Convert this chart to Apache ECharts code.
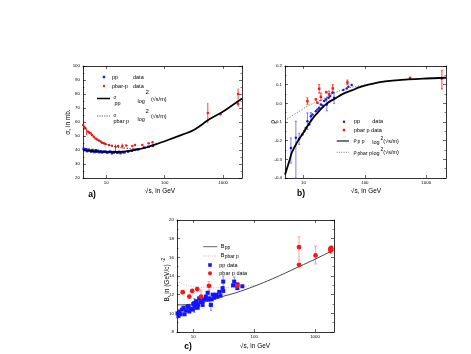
<!DOCTYPE html>
<html><head><meta charset="utf-8">
<script src="https://cdn.jsdelivr.net/npm/echarts@6/dist/echarts.min.js"></script>
<style>html,body{margin:0;padding:0;background:#fff}#c{width:471px;height:354px}</style>
</head><body><div id="c"></div>
<script>
// ---------------- DATA ----------------
// x tick labels (log axes)
const xTickLabels = [10, 100, 1000];
// y tick labels
const yTicksA = [20, 30, 40, 50, 60, 70, 80, 90, 100];
const yTicksB = [-0.4, -0.3, -0.2, -0.1, 0.0, 0.1, 0.2];
const yTicksC = [8, 10, 12, 14, 16, 18, 20];

// Panel a: total cross sections (sqrt s [GeV], sigma [mb])
const aCurvePP = [[4,40.2],[5,39.6],[6,39.2],[8,38.9],[10,38.7],[15,38.6],[20,38.9],[30,39.9],[50,42.0],[84,45.2],[100,46.3],[200,51.0],[314,54.3],[580,61.9],[1000,67.5],[1500,72.5],[2100,76.8]];
const aCurvePbar = [[4,57.5],[5,52.5],[6,49.5],[8,45.8],[10,44.0],[15,42.2],[20,41.4],[30,40.8],[40,41.2],[50,42.1],[60,43.1]];
const aDataPP = [[4.1,40.8],[4.3,39.9],[4.5,40.5],[4.7,39.2],[5.0,40.2],[5.2,39.6],[5.5,38.9],[5.8,40.0],[6.0,39.1],[6.3,38.6],[6.6,39.8],[6.9,38.9],[7.2,39.4],[7.6,38.5],[8.0,39.0],[8.5,38.3],[9.0,38.8],[9.7,38.9],[10.3,38.2],[11.0,38.5],[11.7,38.9],[12.5,37.7],[13.4,38.3],[14.0,38.6],[15.5,38.0],[16.5,38.7],[17.5,37.8],[19.0,38.5],[20.5,38.3],[23.5,38.9],[27.4,39.5],[30.7,40.2],[35,40.5],[44.7,41.7],[52.8,42.3],[62.7,43.0]];
const aDataPbar = [[4.03,57.9],[4.2,56.5],[4.4,55.5],[4.9,53.1],[5.1,52.5],[5.4,51.9],[5.75,50.7],[6.1,49.5],[6.55,48.3],[7.0,47.5],[7.5,46.7],[8.0,46.0],[8.5,45.2],[9.1,44.8],[9.7,44.3],[11.1,43.6],[12.5,43.0],[14.4,42.4],[16,42.8],[18.8,42.9],[22,43.2],[27.9,42.9],[31,43.5],[41.4,43.6],[53,44.8],[62,45.5],[546,66.5],[900,65.5],[1800,80.0],[1800,72.8]];
const aErrPbar = [[4.6,50.5,55.0],[14.4,38.0,44.0],[18.8,41.0,44.5],[546,59.0,73.6],[1800,76.0,84.0],[1800,71.0,75.0]];

// Panel b: rho (sqrt s [GeV], rho)
const bCurvePP = [[5,-0.382],[6,-0.30],[6.5,-0.261],[8,-0.205],[10,-0.156],[12,-0.115],[15,-0.07],[17.5,-0.046],[20,-0.025],[25,0.003],[32.8,0.026],[45,0.052],[61,0.069],[80,0.085],[114,0.100],[213,0.118],[510,0.128],[1000,0.133],[2100,0.137]];
const bCurvePbar = [[5,-0.092],[7,-0.06],[9.4,-0.034],[12,-0.012],[17.5,0.012],[25,0.038],[32.8,0.057],[45,0.074],[54,0.083],[70,0.090],[100,0.098]];
const bDataPP = [[6.24,-0.239],[7.52,-0.185],[8.5,-0.191],[9.6,-0.167],[10.3,-0.149],[10.9,-0.132],[11.6,-0.096],[12.4,-0.114],[13.2,-0.069],[14.0,-0.060],[15.9,-0.042],[16.9,-0.033],[18.0,-0.024],[19.2,-0.006],[20.4,-0.011],[21.7,0.012],[23.1,0.021],[24.0,-0.006],[25.5,0.030],[27.2,0.039],[29.6,0.057],[31.5,0.030],[44.6,0.071],[50.6,0.080],[54,0.089],[61,0.098]];
const bErrPP = [[6.24,-0.32,-0.185],[7.52,-0.40,-0.096],[8.5,-0.22,-0.16],[11.6,-0.14,-0.051],[24.0,-0.04,0.03],[31.5,0.0,0.06],[13.2,-0.09,-0.05]];
const bDataPbar = [[11.6,0.012],[15.9,0.021],[16.9,0.003],[18.0,0.078],[19.2,0.035],[23.5,0.060],[26.2,0.048],[30.0,0.080],[52,0.112],[546,0.136],[1800,0.133]];
const bErrPbar = [[11.6,-0.005,0.03],[18.0,0.055,0.10],[19.2,0.015,0.055],[26.2,0.03,0.066],[30.0,0.06,0.10],[52,0.10,0.125],[1800,0.077,0.175]];

// Panel c: slope B (sqrt s [GeV], B [(GeV/c)^-2])
const cCurvePP = [[5.4,10.9],[10,11.0],[20,11.4],[30,11.8],[50,12.2],[100,12.9],[200,13.7],[546,15.0],[1000,15.8],[2050,16.8]];
const cCurvePbar = [[5.4,13.5],[7,13.1],[10,12.9],[20,12.75],[40,12.75],[60,12.8],[80,12.95],[100,13.0]];
const cDataPP = [[5.5,10.0],[5.7,9.7],[5.9,10.2],[6.2,9.9],[6.5,10.4],[6.9,10.6],[7.2,9.9],[7.6,10.3],[8.0,10.7],[8.4,10.75],[8.6,10.2],[9.0,10.5],[9.8,10.4],[10.0,11.0],[10.4,11.1],[10.4,10.6],[11.1,11.3],[11.1,10.8],[11.8,10.6],[12.0,10.9],[12.5,11.6],[13.0,11.2],[14.2,10.9],[14.2,11.3],[15.0,11.5],[16.1,11.8],[17.2,12.2],[17.5,11.5],[18.3,11.6],[19.5,10.9],[20.0,11.5],[20.8,12.0],[22.0,11.7],[23.6,12.0],[25.0,11.8],[26.7,12.3],[28,11.9],[30.3,12.7],[31,13.4],[31,12.4],[45,13.0],[47,13.4],[53.3,13.1],[53,12.7],[64,12.9]];
const cErrPP = [[18.3,10.8,12.4],[31,12.4,14.0],[19.5,10.3,11.5],[47,12.9,13.9],[10.4,10.1,11.6]];
const cDataPbar = [[6.7,12.27],[8.6,11.8],[9.6,12.4],[11.6,12.6],[13.4,11.8],[18.1,12.95],[52.6,12.95],[546,17.1],[546,15.2],[1020,16.2],[1800,16.7],[1850,17.0],[1780,16.9]];
const cErrPbar = [[13.4,11.3,12.5],[18.1,12.5,13.4],[546,15.6,18.2],[1020,15.3,17.2],[1800,16.4,17.2]];

// ---------------- CHART ----------------
const F = 'Liberation Sans, Arial, Helvetica, sans-serif';
const BLUE = '#1414ff', RED = '#ff1414';
const TICKFS = 4.4;
const chart = echarts.init(document.getElementById('c'), null, {renderer:'canvas'});

function xAx(gi, min, max, top) {
  return {type:'log', logBase:10, gridIndex:gi, min, max, position: top?'top':'bottom',
    axisLine:{show:true, onZero:false, lineStyle:{color:'#000', width:0.8}},
    axisTick:{show:true, inside:true, length:3, lineStyle:{color:'#000', width:0.6}},
    axisLabel:{show:!top, fontSize:TICKFS, color:'#000', fontFamily:F, margin:3, showMinLabel:false, showMaxLabel:false,
      formatter: v => (xTickLabels.indexOf(Math.round(v)) >= 0 ? String(Math.round(v)) : '')},
    splitLine:{show:false}};
}
function yAx(gi, ticks, right, fmt) {
  return {type:'value', gridIndex:gi, min:ticks[0], max:ticks[ticks.length-1],
    interval: Math.round((ticks[1]-ticks[0])*1000)/1000, position: right?'right':'left',
    axisLine:{show:true, onZero:false, lineStyle:{color:'#000', width:0.8}},
    axisTick:{show:true, inside:true, length:3, lineStyle:{color:'#000', width:0.6}},
    minorTick:{show:true, splitNumber:2, length:1.5, lineStyle:{color:'#000', width:0.5}},
    axisLabel:{show:!right, fontSize:TICKFS, color:'#000', fontFamily:F, margin:3, formatter: fmt},
    splitLine:{show:false}};
}
function scat(data, xi, color, sym, size, z) {
  return {type:'scatter', xAxisIndex:xi, yAxisIndex:xi, data, symbol:sym, symbolSize:size,
    itemStyle:{color, opacity:1}, z: z||3, silent:true, animation:false};
}
function line(data, xi, color, width, type, z) {
  return {type:'line', xAxisIndex:xi, yAxisIndex:xi, data, smooth:0.4, showSymbol:false, symbol:'none',
    lineStyle:{color, width, type}, z: z||2, silent:true, animation:false};
}
function err(data, xi, color, cap) {
  return {type:'custom', xAxisIndex:xi, yAxisIndex:xi, data, z:1, silent:true, animation:false,
    encode:{x:0, y:[1,2]},
    renderItem(params, api) {
      const x = api.value(0), lo = api.value(1), hi = api.value(2);
      const p = api.coord([x, lo]), q = api.coord([x, hi]);
      const st = {stroke:color, lineWidth:0.8};
      const ch = [{type:'line', shape:{x1:p[0], y1:p[1], x2:q[0], y2:q[1]}, style:st}];
      if (cap) {
        ch.push({type:'line', shape:{x1:p[0]-cap, y1:p[1], x2:p[0]+cap, y2:p[1]}, style:st});
        ch.push({type:'line', shape:{x1:q[0]-cap, y1:q[1], x2:q[0]+cap, y2:q[1]}, style:st});
      }
      return {type:'group', children:ch};
    }};
}
function T(text, x, y, size, opts) {
  opts = opts || {};
  return {type:'text', x, y, rotation: opts.rot || 0, silent:true,
    style:{text, fill:'#000', fontSize:size, fontFamily:F, fontWeight: opts.bold?'bold':'normal',
      align: opts.align||'left', textAlign: opts.align||'left',
      verticalAlign:'middle', textVerticalAlign:'middle'}};
}
function L(x1, y1, x2, y2, color, w, dash) {
  return {type:'line', silent:true, shape:{x1,y1,x2,y2}, style:{stroke:color, lineWidth:w, lineDash: dash||null}};
}

const option = {
  animation:false,
  backgroundColor:'#fff',
  grid:[
    {left:83, top:66, width:159, height:112},
    {left:285, top:66, width:161, height:112},
    {left:177, top:220, width:157, height:112}
  ],
  xAxis:[xAx(0,4,2100,false), xAx(0,4,2100,true), xAx(1,5,2100,false), xAx(1,5,2100,true), xAx(2,5.4,2050,false), xAx(2,5.4,2050,true)],
  yAxis:[yAx(0,yTicksA,false), yAx(0,yTicksA,true), yAx(1,yTicksB,false, v=>v.toFixed(1)), yAx(1,yTicksB,true), yAx(2,yTicksC,false), yAx(2,yTicksC,true)],
  series:[
    // a
    err(aErrPbar, 0, RED, 0),
    scat(aDataPP, 0, BLUE, 'rect', 2.5),
    scat(aDataPbar, 0, RED, 'circle', 2.5),
    line(aCurvePbar, 0, '#444', 1, [1.5,1.5], 4),
    line(aCurvePP, 0, '#000', 1.7, 'solid', 5),
    // b
    err(bErrPP, 2, '#5a5aff', 1),
    err(bErrPbar, 2, RED, 1),
    scat(bDataPP, 2, BLUE, 'circle', 2.5),
    scat(bDataPbar, 2, RED, 'rect', 2.5),
    line(bCurvePbar, 2, '#555', 0.8, [1.2,1.6], 4),
    line(bCurvePP, 2, '#000', 1.8, 'solid', 5),
    // c
    err(cErrPP, 4, '#7a7aff', 1.2),
    err(cErrPbar, 4, '#ff8a8a', 1.5),
    line(cCurvePbar, 4, '#aaa', 0.8, [1,1.5], 2),
    line(cCurvePP, 4, '#333', 0.9, 'solid', 2),
    scat(cDataPP, 4, BLUE, 'rect', 4, 3),
    scat(cDataPbar, 4, RED, 'circle', 4.8, 3)
  ],
  graphic:[
    // ---- panel a texts
    T('σ, in mb.', 68, 122, 6.5, {rot:Math.PI/2, align:'center'}),
    T('√s, in GeV', 160, 191, 6.5, {align:'center'}),
    T('a)', 92, 195, 8.5, {bold:true, align:'center'}),
    {type:'rect', silent:true, shape:{x:102.8, y:75.8, width:2.4, height:2.4}, style:{fill:BLUE}},
    T('pp', 112, 77, 5.5), T('data', 133, 77, 5.5),
    {type:'circle', silent:true, shape:{cx:104, cy:86, r:1.2}, style:{fill:RED}},
    T('pbar-p', 112, 86, 5.5), T('data', 133, 86, 5.5),
    L(97, 98.5, 110, 98.5, '#000', 1.5),
    T('σ', 113.5, 97.5, 4.5), T('pp', 114.5, 103.5, 5.5), T('log', 137.5, 101.8, 5.5), T('2', 145.5, 92.3, 6), T('(√s/m)', 151, 99, 5.5),
    L(97, 116, 110, 116, '#444', 0.9, [1.2,1.2]),
    T('σ', 113.5, 115.5, 4.5), T('pbar p', 113.5, 121.3, 5.5), T('log', 137.5, 119, 5.5), T('2', 145.5, 111, 6), T('(√s/m)', 151, 116.7, 5.5),
    // ---- panel b texts
    T('ρ', 273, 122, 6.5, {rot:Math.PI/2, align:'center'}),
    T('√s, in GeV', 366, 191, 6.5, {align:'center'}),
    T('b)', 301, 194, 8.5, {bold:true, align:'center'}),
    {type:'circle', silent:true, shape:{cx:344, cy:121.7, r:1.2}, style:{fill:BLUE}},
    T('pp', 354, 121.7, 5.5), T('data', 372.3, 121.7, 5.5),
    {type:'rect', silent:true, shape:{x:342.8, y:128.8, width:2.4, height:2.4}, style:{fill:RED}},
    T('pbar p data', 354, 130, 5.5),
    L(336.7, 141, 349, 141, '#777', 2),
    T('ρ', 353.5, 140.5, 5.5), T('p p', 357.5, 142, 5), T('log', 372.3, 142.3, 5.5), T('2', 380.5, 138.5, 5), T('(√s/m)', 383.3, 141.2, 5.5),
    L(336.7, 152.3, 349, 152.3, '#555', 0.8, [1,1.3]),
    T('ρ', 353.5, 152.5, 5.5), T('pbar p', 357.5, 154, 5), T('log', 372.3, 153.5, 5.5), T('2', 380.5, 150, 5), T('(√s/m)', 383.3, 152.8, 5.5),
    // ---- panel c texts
    T('B, in (GeV/c)', 167, 283, 6.5, {rot:Math.PI/2, align:'center'}),
    T('-2', 164, 260, 5, {rot:Math.PI/2, align:'center'}),
    T('√s, in GeV', 255, 346, 6.5, {align:'center'}),
    T('c)', 188, 347, 8.5, {bold:true, align:'center'}),
    L(203.3, 246.7, 217.3, 246.7, '#555', 0.9),
    T('B', 220.7, 246.3, 5.5), T('pp', 224.7, 247.8, 5),
    L(203.3, 256, 217.3, 256, '#aaa', 0.8, [1,1.3]),
    T('B', 220.7, 255.5, 5.5), T('pbar p', 224.7, 257, 5),
    {type:'rect', silent:true, shape:{x:208.2, y:263.2, width:3.6, height:3.6}, style:{fill:BLUE}},
    T('pp data', 219.3, 265, 5.5),
    {type:'circle', silent:true, shape:{cx:210, cy:273.3, r:2}, style:{fill:RED}},
    T('pbar p data', 219.3, 273.3, 5.5)
  ]
};
chart.setOption(option);
</script>
</body></html>
